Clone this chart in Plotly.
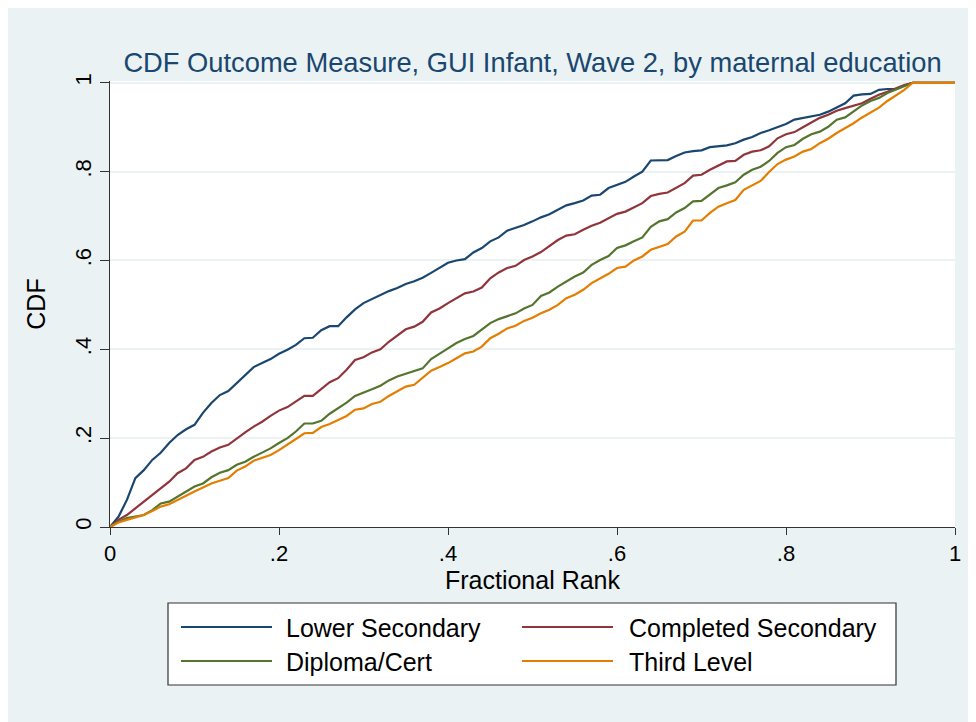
import plotly.graph_objects as go

# fractional rank grid 0, .01, ..., 1
rank = [i / 100 for i in range(101)]

lower_secondary = [
    0, 0.023, 0.061, 0.11, 0.128, 0.151, 0.167, 0.189, 0.207, 0.22,
    0.23, 0.257, 0.279, 0.297, 0.306, 0.324, 0.342, 0.36, 0.369, 0.378,
    0.39, 0.399, 0.41, 0.425, 0.426, 0.443, 0.452, 0.452, 0.472, 0.49,
    0.504, 0.513, 0.522, 0.531, 0.538, 0.547, 0.553, 0.561, 0.572, 0.583,
    0.595, 0.6, 0.603, 0.618, 0.628, 0.643, 0.652, 0.667, 0.673, 0.68,
    0.688, 0.697, 0.704, 0.714, 0.724, 0.729, 0.735, 0.746, 0.748, 0.763,
    0.77, 0.777, 0.789, 0.8, 0.825, 0.826, 0.826, 0.835, 0.843, 0.846,
    0.848, 0.855, 0.857, 0.859, 0.864, 0.872, 0.878, 0.887, 0.893, 0.9,
    0.907, 0.917, 0.921, 0.924, 0.928, 0.935, 0.945, 0.954, 0.971, 0.974,
    0.975, 0.984, 0.986, 0.986, 0.994, 1, 1, 1, 1, 1, 1,
]

completed_secondary = [
    0, 0.016, 0.027, 0.042, 0.057, 0.072, 0.087, 0.102, 0.121, 0.132,
    0.151, 0.158, 0.17, 0.179, 0.185, 0.2, 0.213, 0.226, 0.237, 0.25,
    0.262, 0.27, 0.282, 0.295, 0.295, 0.31, 0.326, 0.335, 0.354, 0.376,
    0.382, 0.393, 0.4, 0.417, 0.43, 0.445, 0.451, 0.462, 0.483, 0.492,
    0.504, 0.515, 0.526, 0.53, 0.539, 0.56, 0.573, 0.583, 0.588, 0.601,
    0.609, 0.619, 0.633, 0.646, 0.656, 0.659, 0.669, 0.678, 0.685, 0.695,
    0.705, 0.71, 0.72, 0.729, 0.745, 0.75, 0.753, 0.763, 0.774, 0.791,
    0.793, 0.804, 0.814, 0.823, 0.824, 0.838, 0.845, 0.848, 0.857, 0.875,
    0.884, 0.889, 0.9, 0.911, 0.921, 0.928, 0.937, 0.943, 0.948, 0.954,
    0.964, 0.973, 0.98, 0.988, 0.995, 1, 1, 1, 1, 1, 1,
]

diploma_cert = [
    0, 0.012, 0.02, 0.023, 0.027, 0.038, 0.053, 0.057, 0.068, 0.08,
    0.091, 0.098, 0.112, 0.122, 0.128, 0.14, 0.147, 0.158, 0.167, 0.177,
    0.189, 0.2, 0.215, 0.233, 0.233, 0.239, 0.255, 0.267, 0.28, 0.295,
    0.302, 0.31, 0.318, 0.33, 0.339, 0.345, 0.352, 0.357, 0.378, 0.391,
    0.402, 0.414, 0.423, 0.43, 0.444, 0.459, 0.468, 0.475, 0.481, 0.492,
    0.5, 0.52, 0.528, 0.541, 0.552, 0.564, 0.573, 0.59, 0.601, 0.61,
    0.628, 0.634, 0.643, 0.652, 0.676, 0.688, 0.693, 0.708, 0.718, 0.733,
    0.734, 0.748, 0.763, 0.769, 0.776, 0.793, 0.804, 0.811, 0.824, 0.842,
    0.855, 0.86, 0.874, 0.884, 0.89, 0.901, 0.917, 0.922, 0.935, 0.949,
    0.959, 0.966, 0.977, 0.985, 0.992, 1, 1, 1, 1, 1, 1,
]

third_level = [
    0, 0.01, 0.016, 0.022, 0.027, 0.036, 0.046, 0.051, 0.061, 0.07,
    0.08, 0.089, 0.098, 0.104, 0.11, 0.127, 0.136, 0.149, 0.155, 0.162,
    0.173, 0.185, 0.198, 0.211, 0.212, 0.225, 0.232, 0.241, 0.25, 0.264,
    0.267, 0.277, 0.282, 0.295, 0.306, 0.316, 0.32, 0.335, 0.352, 0.36,
    0.369, 0.38, 0.391, 0.395, 0.406, 0.425, 0.435, 0.447, 0.453, 0.464,
    0.471, 0.481, 0.489, 0.5, 0.515, 0.523, 0.534, 0.549, 0.56, 0.57,
    0.583, 0.586, 0.6, 0.609, 0.624, 0.631, 0.637, 0.654, 0.665, 0.69,
    0.69, 0.707, 0.721, 0.729, 0.736, 0.759, 0.769, 0.779, 0.799, 0.817,
    0.827, 0.834, 0.845, 0.851, 0.864, 0.874, 0.887, 0.898, 0.909, 0.922,
    0.934, 0.944, 0.959, 0.971, 0.984, 1, 1, 1, 1, 1, 1,
]

series = [
    ("Lower Secondary", lower_secondary, "#1A476F"),
    ("Completed Secondary", completed_secondary, "#90353B"),
    ("Diploma/Cert", diploma_cert, "#55752F"),
    ("Third Level", third_level, "#E37E00"),
]

tick_vals = [0, 0.2, 0.4, 0.6, 0.8, 1]
tick_text = ["0", ".2", ".4", ".6", ".8", "1"]

FONT = "Liberation Sans, Arial, sans-serif"
BG = "#EAF2F3"

fig = go.Figure(
    data=[
        go.Scatter(x=rank, y=vals, name=name, mode="lines",
                   line=dict(color=color, width=2.2), showlegend=False)
        for name, vals, color in series
    ]
)

# plot area: 845 x 446 px, left edge 102px, bottom edge 203px from figure bottom
PW, PH, BOT = 845, 446, 519


def px(x):
    return (x - 102) / PW


def py_(y):
    return (BOT - y) / PH


# Stata-style legend box below the plot: 2 columns x 2 rows
shapes = [dict(type="rect", xref="paper", yref="paper",
               x0=px(160), x1=px(888), y0=py_(595), y1=py_(677),
               fillcolor="white", line=dict(color="#333", width=1.2))]
annotations = []
cols = [(173, 276), (514, 619)]
rows = [619, 653]
for i, (name, _, color) in enumerate(series):
    lx, tx = cols[i % 2]
    ry = rows[i // 2]
    shapes.append(dict(type="line", xref="paper", yref="paper",
                       x0=px(lx), x1=px(lx + 91), y0=py_(ry), y1=py_(ry),
                       line=dict(color=color, width=2.2)))
    annotations.append(dict(text=name, xref="paper", yref="paper",
                            x=px(tx), y=py_(ry + 1), xanchor="left", yanchor="middle",
                            showarrow=False, font=dict(size=25, family=FONT, color="black")))

# the page body adds an 8px white margin at top/left, so margins are
# measured from the figure origin; y range runs a hair above 1 so the
# flat top of the CDFs is not clipped
fig.update_layout(
    width=976, height=722,
    margin=dict(l=102, r=29, t=73, b=203),
    paper_bgcolor=BG,
    plot_bgcolor="white",
    font=dict(family=FONT, color="black"),
    title=dict(
        text="CDF Outcome Measure, GUI Infant, Wave 2, by maternal education",
        font=dict(size=27.3, color="#1A476F", family=FONT),
        x=0.5, xref="paper", xanchor="center",
        y=1 - 54 / 722, yref="container", yanchor="middle",
    ),
    shapes=shapes,
    annotations=annotations,
)

fig.update_xaxes(
    range=[0, 1],
    tickvals=tick_vals, ticktext=tick_text,
    ticks="outside", ticklen=7, tickcolor="#333", tickwidth=1,
    showline=True, linecolor="#333", linewidth=1,
    showgrid=False, zeroline=False,
    tickfont=dict(size=22),
    title=dict(text="Fractional Rank", font=dict(size=25), standoff=4),
)

fig.update_yaxes(
    range=[0, 1.004],
    tickvals=tick_vals, ticktext=tick_text, tickangle=-90,
    ticks="outside", ticklen=9, tickcolor="#333", tickwidth=1,
    showline=True, linecolor="#333", linewidth=1,
    showgrid=True, gridcolor=BG, gridwidth=1.5,
    zeroline=False,
    tickfont=dict(size=22),
    title=dict(text="CDF", font=dict(size=25), standoff=18),
)

fig.write_html("out.html")
